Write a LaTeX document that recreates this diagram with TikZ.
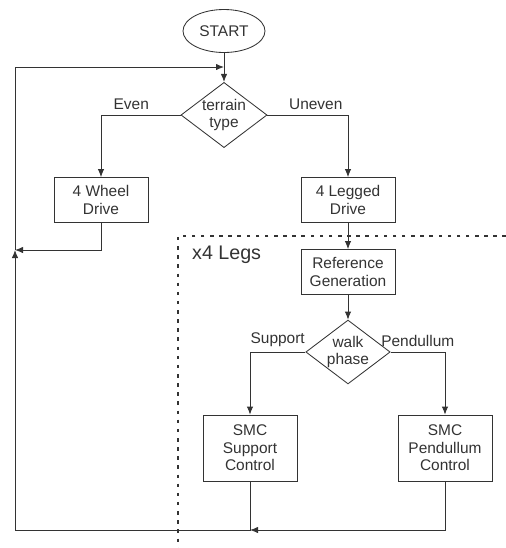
\documentclass[tikz,border=0pt]{standalone}
\usepackage{fontspec}
\setmainfont{Liberation Sans}
\usetikzlibrary{shapes.geometric,arrows.meta}
\begin{document}
\begin{tikzpicture}[>={Latex[length=2mm,width=1.6mm]},x=1cm,y=1cm,
			every node/.style={font=\fontsize{11}{12.5}\selectfont,color=black!80},
			box/.style={draw,line width=0.6pt,align=center,minimum width=2.35cm,minimum height=1.125cm,inner sep=1pt},
			tallbox/.style={box,minimum height=1.65cm},
			choice/.style={draw,line width=0.6pt,diamond,aspect=1.32,align=center,inner sep=0pt},
			lbl/.style={above,inner sep=3.5pt}]
			\def \xmax{12.65}
			\def \ymin{-13.7}
			\def \xloop{0.375}
			\useasboundingbox (0,0) rectangle (\xmax,\ymin);
			% Các khối
			\node[draw,line width=0.6pt,ellipse,minimum width=2.05cm,minimum height=1.075cm,inner sep=0pt] (start) at (5.6,-0.775) {START};
			\node[choice] (terrain) at (5.6,-2.875) {terrain\\type};
			\node[box] (wheel) at (2.525,-5) {4 Wheel\\Drive};
			\node[box] (legged) at (8.7,-5) {4 Legged\\Drive};
			\node[box] (ref) at (8.7,-6.8) {Reference\\Generation};
			\node[choice] (walk) at (8.7,-8.8) {walk\\phase};
			\node[tallbox] (support) at (6.25,-11.2) {SMC\\Support\\Control};
			\node[tallbox] (pendulum) at (11.125,-11.2) {SMC\\Pendullum\\Control};
			\coordinate (back) at (\xloop,-6.25);
			\coordinate (top) at (\xloop,-1.675);
			\coordinate (join) at (6.25,-13.25);
			% Vùng x4 Legs
			\draw[black!80,line width=0.8pt,dash pattern=on 2.5pt off 4pt] (\xmax,-5.9) -- (4.45,-5.9) -- (4.45,\ymin);
			\node[font=\fontsize{14}{16}\selectfont,right] (legs) at (4.68,-6.375) {x4 Legs};
			% Các mũi tên
			\begin{scope}[black!80,line width=0.6pt]
				\draw[->] (start) -- (terrain);
				\draw[->] (terrain.west) -| node[lbl,pos=0.31] {Even} (wheel.north);
				\draw[->] (terrain.east) -| node[lbl,pos=0.3] {Uneven} (legged.north);
				\draw[->] (legged) -- (ref);
				\draw[->] (ref) -- (walk);
				\draw[->] (walk.west) -| node[lbl,pos=0.25] {Support} (support.north);
				\draw[->] (walk.east) -| node[lbl,pos=0.25] {Pendullum} (pendulum.north);
				\draw[->] (wheel.south) |- (back);
				\draw[->] (pendulum.south) |- (join);
				\draw[->] (support.south) -- (join) -| (back);
				\draw[->] (back) -- (top) -- (top -| start.south);
			\end{scope}
		\end{tikzpicture}
\end{document}
